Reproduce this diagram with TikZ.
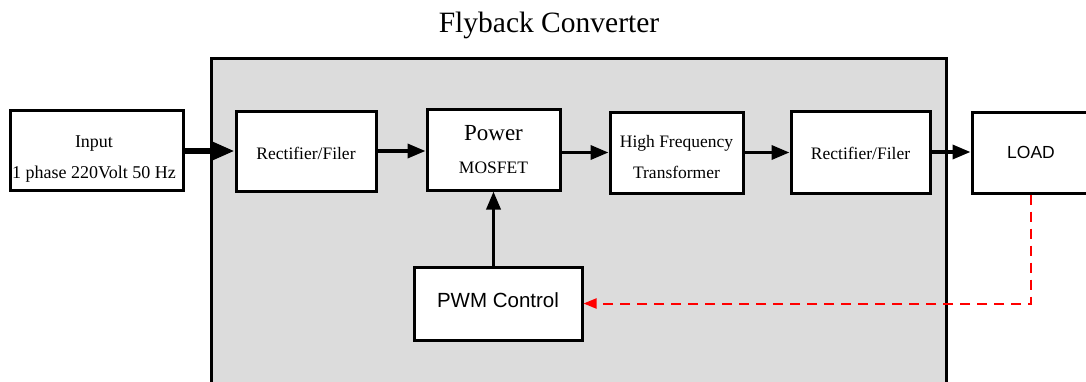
\documentclass[tikz,border=0pt]{standalone}
\usepackage{fontspec}
\setmainfont{Liberation Serif}
\newfontfamily\arialf{Liberation Sans}
\usetikzlibrary{arrows.meta,calc}
\definecolor{panelgray}{RGB}{220,220,220}
\tikzset{
  blk/.style={draw=black,line width=3pt,fill=white,inner sep=0pt,align=center,
    font=\fontsize{17.5}{31}\selectfont},
  txt/.style={inner sep=0pt,align=center,font=\fontsize{17.5}{31}\selectfont},
  flow/.style={line width=3.5pt,-{Triangle[length=18pt,width=14pt]}},
  flowbig/.style={line width=5.5pt,-{Triangle[length=23pt,width=18pt]}},
  feedback/.style={red,line width=2pt,dash pattern=on 10pt off 7pt,-{Triangle[length=13pt,width=10pt]}}
}
\begin{document}
\begin{tikzpicture}[x=1pt,y=-1pt]
\useasboundingbox (0,0) rectangle (1086,381);
\clip (0,0) rectangle (1086,381);
\fill[white] (0,0) rectangle (1086,381);
% panel
\draw[line width=3pt,fill=panelgray] (211,400) -- (211,58) -- (946,58) -- (946,400);
\node[font=\fontsize{29.5}{30}\selectfont] (title) at (549,25) {Flyback Converter};
% blocks
\node[blk,minimum width=173pt,minimum height=80pt] (in) at (96.5,150) {};
\node[txt,font=\fontsize{18}{31}\selectfont] (intext) at (94,159) {Input\\1 phase 220Volt 50 Hz};
\node[blk,minimum width=140pt,minimum height=80pt] (r1) at (306,151) {};
\node[txt] (r1text) at (306,153) {Rectifier/Filer};
\node[blk,minimum width=133pt,minimum height=81pt] (pm) at (493.5,149.5) {{\fontsize{23}{23}\selectfont Power}\\[2pt]MOSFET};
\node[blk,minimum width=133pt,minimum height=81pt] (hf) at (676.5,152.5) {};
\node[txt] (hftext) at (676.5,157) {High Frequency\\Transformer};
\node[blk,minimum width=139pt,minimum height=82pt] (r2) at (860.5,152) {};
\node[txt] (r2text) at (860.5,153) {Rectifier/Filer};
\node[blk,minimum width=118pt,minimum height=81pt,font=\arialf\fontsize{17.5}{20}\selectfont] (load) at (1031,152.5) {LOAD};
\node[blk,minimum width=168pt,minimum height=73pt] (pwm) at (498,303.5) {};
\node[txt,font=\arialf\fontsize{20.5}{22}\selectfont] (pwmtext) at (498,300) {PWM Control};
% connectors
\draw[flowbig] (r1.west -| in.east) -- (r1.west);
\draw[flow] (r1.east) -- (r1.east -| pm.west);
\draw[flow] (hf.west -| pm.east) -- (hf.west);
\draw[flow] (hf.east) -- (hf.east -| r2.west);
\draw[flow] (r2.east) -- (r2.east -| load.west);
\draw[flow] (pm.south |- pwm.north) -- (pm.south);
\draw[feedback] (load.south) -- (load.south |- pwm.east) -- (pwm.east);
\end{tikzpicture}
\end{document}
